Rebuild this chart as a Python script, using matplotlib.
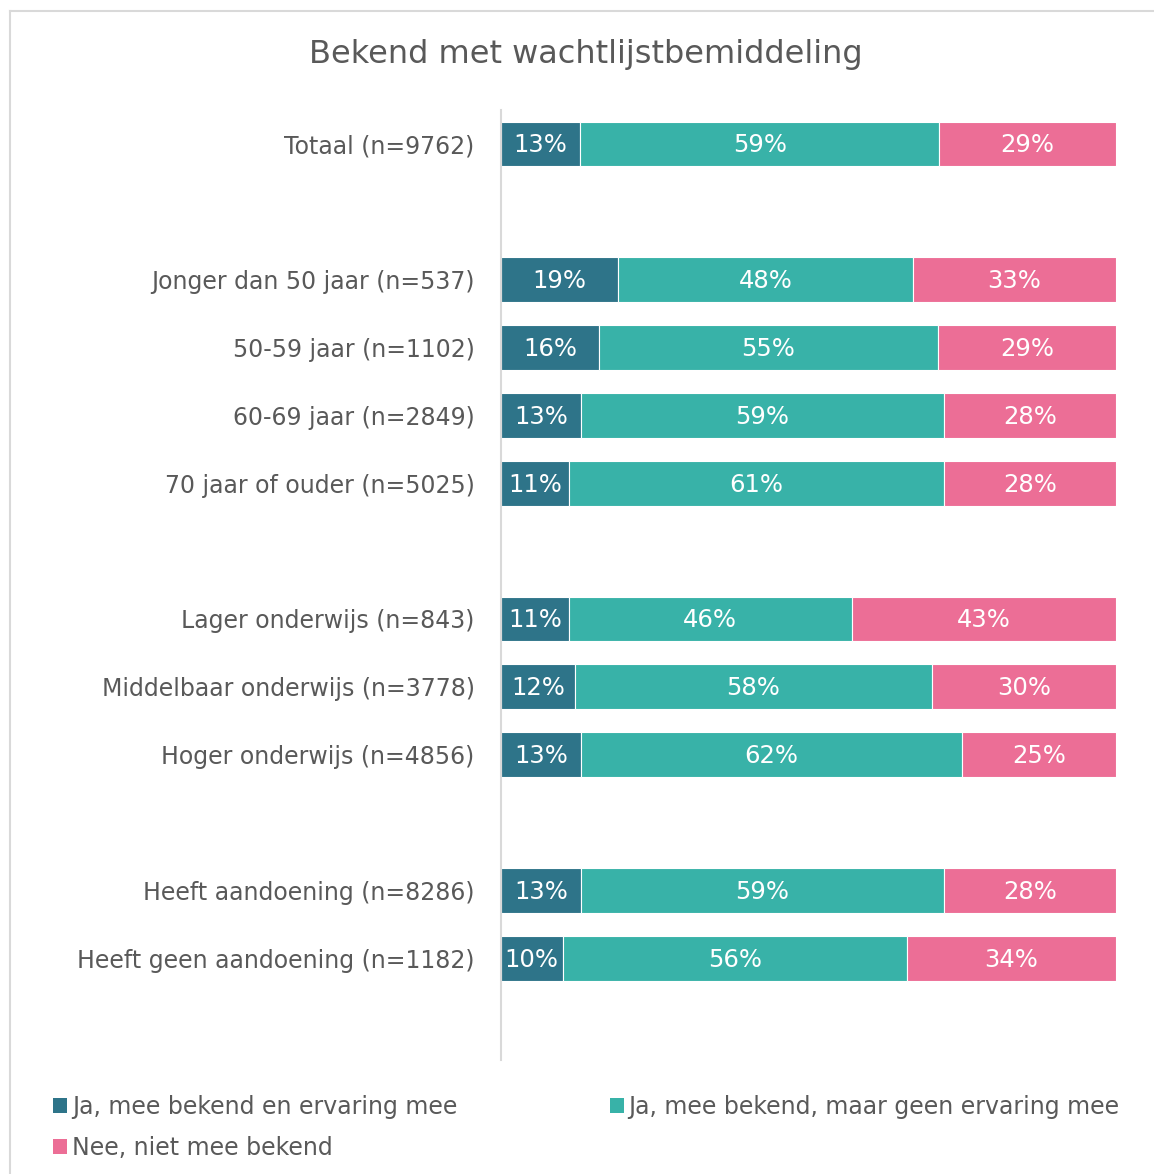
import matplotlib.pyplot as plt
from matplotlib.lines import Line2D
from matplotlib.patches import Patch

categories = ['Totaal (n=9762)', '',
              'Jonger dan 50 jaar (n=537)', '50-59 jaar (n=1102)',
              '60-69 jaar (n=2849)', '70 jaar of ouder (n=5025)', '',
              'Lager onderwijs (n=843)', 'Middelbaar onderwijs (n=3778)',
              'Hoger onderwijs (n=4856)', '',
              'Heeft aandoening (n=8286)', 'Heeft geen aandoening (n=1182)', '']

ja_ervaring = [13, None, 19, 16, 13, 11, None, 11, 12, 13, None, 13, 10, None]
ja_geen = [59, None, 48, 55, 59, 61, None, 46, 58, 62, None, 59, 56, None]
nee = [29, None, 33, 29, 28, 28, None, 43, 30, 25, None, 28, 34, None]

series_names = ['Ja, mee bekend en ervaring mee',
                'Ja, mee bekend, maar geen ervaring mee',
                'Nee, niet mee bekend']
colors = ['#2E7489', '#38B2A8', '#EC6E96']
grey = '#595959'

fig = plt.figure(figsize=(11.54, 11.74), dpi=100)
ax = fig.add_axes([501 / 1154, 114 / 1174, 615 / 1154, 950 / 1174])

for i, cat in enumerate(categories):
    vals = [ja_ervaring[i], ja_geen[i], nee[i]]
    if vals[0] is None:
        continue
    total = sum(vals)
    left = 0
    for v, c in zip(vals, colors):
        w = v / total * 100  # 100% stacked
        ax.barh(i, w, left=left, height=0.66, color=c,
                edgecolor='white', linewidth=0.8)
        ax.text(left + w / 2, i + 0.02, f'{v}%', ha='center', va='center',
                color='white', fontsize=17.5)
        left += w

ax.set_xlim(0, 100)
ax.set_ylim(len(categories) - 0.5, -0.5)
ax.set_yticks(range(len(categories)))
ax.set_yticklabels(categories, fontsize=17, color=grey)
ax.tick_params(axis='y', length=0, pad=19)
ax.set_xticks([])
for s in ['top', 'right', 'bottom']:
    ax.spines[s].set_visible(False)
ax.spines['left'].set_color('#D9D9D9')
ax.spines['left'].set_linewidth(1.5)

fig.text(586 / 1154, 1 - 54 / 1174, 'Bekend met wachtlijstbemiddeling',
         ha='center', va='center', fontsize=23, color=grey)

handles = [Patch(facecolor=c, label=n) for c, n in zip(colors, series_names)]
# row-wise order: two in first row, third below
handles = [handles[0], handles[2], handles[1]]
leg = fig.legend(handles=handles, loc='upper left', ncol=2,
                 bbox_to_anchor=(53 / 1154, 1 - 1095 / 1174),
                 frameon=False, fontsize=17, handlelength=0.6,
                 handleheight=0.6, handletextpad=0.2, columnspacing=6.45,
                 labelspacing=0.7, borderpad=0, borderaxespad=0)
for t in leg.get_texts():
    t.set_color(grey)

# chart frame (left and top edges visible)
fig.add_artist(Line2D([10 / 1154, 10 / 1154], [0, 1 - 11 / 1174],
                      transform=fig.transFigure, color='#D9D9D9', lw=1.5))
fig.add_artist(Line2D([10 / 1154, 1], [1 - 11 / 1174, 1 - 11 / 1174],
                      transform=fig.transFigure, color='#D9D9D9', lw=1.5))

fig.savefig('out.png', dpi=100, facecolor='white')
